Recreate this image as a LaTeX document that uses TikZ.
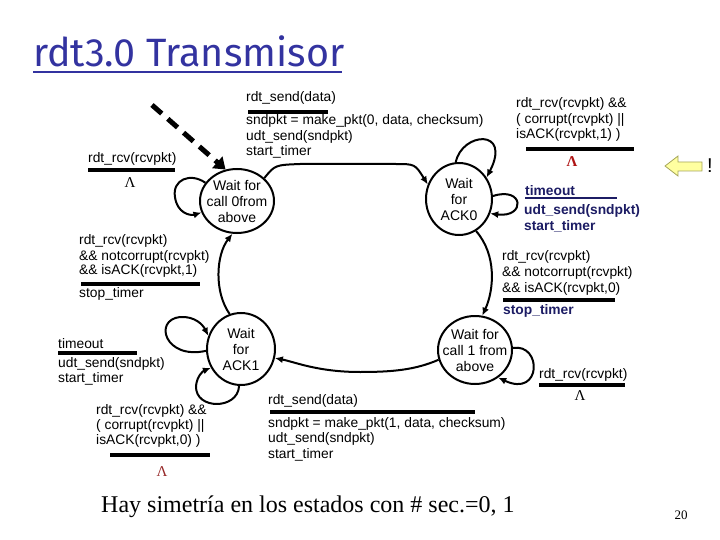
\documentclass[tikz,border=0pt]{standalone}
\usepackage{fontspec}
\setmainfont{Liberation Serif}
\setsansfont{Liberation Sans}
\newfontfamily\titlefont{Fira Sans}
\newfontfamily\lamfont{Liberation Serif}
\usetikzlibrary{shapes.geometric,arrows.meta}
\definecolor{navy}{RGB}{28,28,100}
\definecolor{titleblue}{RGB}{51,51,160}
\definecolor{lamred}{RGB}{175,20,20}
\definecolor{lamdark}{RGB}{150,40,40}
\definecolor{arrowyellow}{RGB}{255,255,160}
\definecolor{arrowedge}{RGB}{165,165,90}
\tikzset{
  state/.style={draw, line width=2pt, ellipse, inner sep=0pt},
  stxt/.style={font=\sffamily\fontsize{14}{16}\selectfont, align=center, inner sep=0pt},
  tr/.style={draw, line width=2pt, -{Latex[length=8pt,width=7pt]}},
  lbl/.style={font=\sffamily\fontsize{13.8}{16}\selectfont, anchor=west, inner sep=0pt},
  blbl/.style={font=\sffamily\bfseries\fontsize{13.8}{16}\selectfont, text=navy, anchor=west, inner sep=0pt},
  bar/.style={line width=3.5pt},
  lam/.style={font=\lamfont\fontsize{15}{16}\selectfont, inner sep=0pt},
}
\begin{document}
\begin{tikzpicture}[x=1pt,y=-1pt]
\useasboundingbox (0,0) rectangle (720,540);

% title
\node[anchor=base west, inner sep=0pt, font=\titlefont\fontsize{39.5}{44}\selectfont, text=titleblue] (title) at (33,67) {rdt3.0 Transmisor};
\draw[titleblue, line width=2pt] (33,72) -- (342,72);

% states
\node[state, minimum width=74, minimum height=64, label={[stxt]center:{Wait for\\call 0from\\above}}] (s0) at (237,201) {};
\node[state, minimum width=66, minimum height=72, label={[stxt]center:{Wait\\for\\ACK0}}] (s1) at (459,199) {};
\node[state, minimum width=68, minimum height=72, label={[stxt]center:{Wait\\for\\ACK1}}] (s2) at (241,349) {};
\node[state, minimum width=74, minimum height=68, label={[stxt]center:{Wait for\\call 1 from\\above}}] (s3) at (475,350) {};

% initial dashed arrow
\coordinate (dstart) at (152,105);
\draw[line width=5pt, dash pattern=on 13pt off 8pt, -{Triangle[length=11pt,width=15pt]}] (dstart) -- (s0.110);

% transitions
\draw[tr] (s0.40) .. controls (275,165) .. (300,164) -- (395,164) .. controls (415,164) .. (s1.155);
\draw[tr] (s1.-62) .. controls (497,255) and (494,290) .. (s3.78);
\draw[tr] (s3.195) .. controls (415,370) and (392,372) .. (360,372) .. controls (318,372) and (295,362) .. (s2.-15);
\draw[tr] (s2.108) .. controls (214,292) and (216,255) .. (s0.-98);

% self loops
\draw[tr] (s0.150) .. controls (190,172) and (172,180) .. (175,197) .. controls (177,213) and (190,216) .. (s0.198);
\draw[tr] (s1.95) .. controls (462,132) and (512,128) .. (s1.38);
\draw[tr] (s1.5) .. controls (524,186) and (526,218) .. (s1.-25);
\draw[tr] (s2.183) .. controls (165,360) and (153,320) .. (180,317) .. controls (195,316) and (203,325) .. (s2.158);
\draw[tr] (s2.-93) .. controls (238,410) and (195,410) .. (196,386) .. controls (197,376) and (203,371) .. (s2.212);
\draw[tr] (s3.3) .. controls (542,343) and (542,398) .. (s3.-50);

% label: s0 -> s1
\node[lbl] (a1) at (246,98) {rdt\_send(data)};
\draw[bar] (248,112) -- (328,112);
\node[lbl] (a2) at (246,121) {sndpkt = make\_pkt(0, data, checksum)};
\node[lbl] (a3) at (246,137) {udt\_send(sndpkt)};
\node[lbl] (a4) at (246,152) {start\_timer};

% label: s0 loop
\node[lbl] (b1) at (88,159) {rdt\_rcv(rcvpkt)};
\draw[bar] (88,170) -- (175,170);
\node[lam] (b2) at (130,183) {Λ};

% label: s1 top loop
\node[lbl] (c1) at (516,104) {rdt\_rcv(rcvpkt) \&\&};
\node[lbl] (c2) at (516,120) {( corrupt(rcvpkt) ||};
\node[lbl] (c3) at (516,135) {isACK(rcvpkt,1) )};
\draw[bar] (526,149) -- (634,149);
\node[lam, text=lamred, font=\lamfont\bfseries\fontsize{15}{16}\selectfont] (c4) at (572,162) {Λ};

% label: s1 right loop
\node[blbl] (d1) at (525,191) {timeout};
\draw[navy, line width=2.5pt] (525,198) -- (617,198);
\node[blbl] (d2) at (524,211) {udt\_send(sndpkt)};
\node[blbl] (d3) at (524,226) {start\_timer};

% label: s1 -> s3
\node[lbl] (e1) at (502,257) {rdt\_rcv(rcvpkt)};
\node[lbl] (e2) at (502,273) {\&\& notcorrupt(rcvpkt)};
\node[lbl] (e3) at (502,289) {\&\& isACK(rcvpkt,0)};
\draw[bar] (503,300) -- (615,300);
\node[blbl] (e4) at (503,311) {stop\_timer};

% label: s2 -> s0
\node[lbl] (f1) at (79,241) {rdt\_rcv(rcvpkt)};
\node[lbl] (f2) at (79,257) {\&\& notcorrupt(rcvpkt)};
\node[lbl] (f3) at (79,271) {\&\& isACK(rcvpkt,1)};
\draw[bar] (81,284) -- (200,284);
\node[lbl] (f4) at (79,294) {stop\_timer};

% label: s2 upper loop
\node[lbl] (g1) at (58,344) {timeout};
\draw[bar] (58,353) -- (137,353);
\node[lbl] (g2) at (58,364) {udt\_send(sndpkt)};
\node[lbl] (g3) at (58,379) {start\_timer};

% label: s2 lower loop
\node[lbl] (h1) at (96,411) {rdt\_rcv(rcvpkt) \&\&};
\node[lbl] (h2) at (96,426) {( corrupt(rcvpkt) ||};
\node[lbl] (h3) at (96,441) {isACK(rcvpkt,0) )};
\draw[bar] (110,455) -- (210,455);
\node[lam, text=lamdark] (h4) at (162,472) {Λ};

% label: s3 -> s2
\node[lbl] (i1) at (268,401) {rdt\_send(data)};
\draw[bar] (270,412) -- (475,412);
\node[lbl] (i2) at (268,424) {sndpkt = make\_pkt(1, data, checksum)};
\node[lbl] (i3) at (268,439) {udt\_send(sndpkt)};
\node[lbl] (i4) at (268,455) {start\_timer};

% label: s3 loop
\node[lbl] (j1) at (539,375) {rdt\_rcv(rcvpkt)};
\draw[bar] (539,385) -- (625,385);
\node[lam] (j2) at (580,396) {Λ};

% yellow pointer
\draw[arrowedge, fill=arrowyellow, line width=0.8pt] (702,162) -- (678,162) -- (678,156) -- (665,166) -- (678,176) -- (678,171) -- (702,171) -- cycle;
\node[font=\sffamily\fontsize{20}{20}\selectfont, inner sep=0pt] (excl) at (710,166) {!};

% bottom text
\node[anchor=west, inner sep=0pt, font=\fontsize{24}{28}\selectfont] (note) at (101,507) {Hay simetría en los estados con \# sec.=0, 1};
\node[inner sep=0pt, font=\fontsize{13}{14}\selectfont] (pg) at (681,515) {20};
\end{tikzpicture}
\end{document}
